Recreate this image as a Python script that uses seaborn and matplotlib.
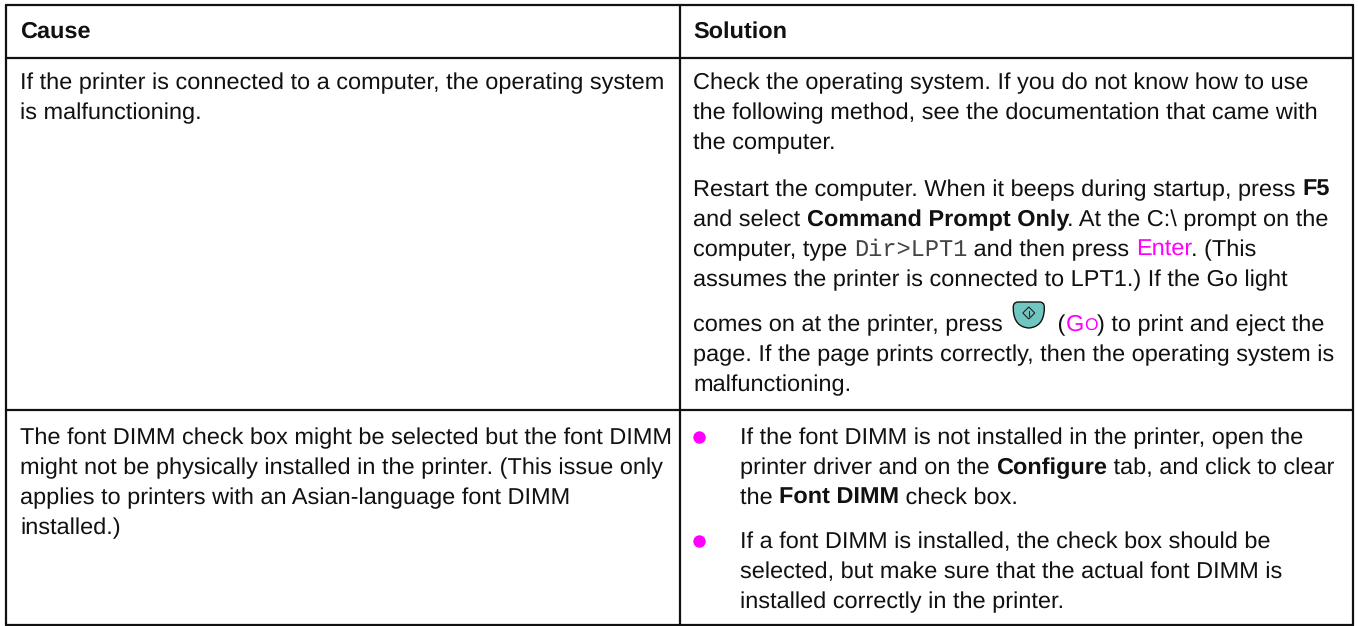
import matplotlib
matplotlib.use("Agg")
import matplotlib.pyplot as plt
from matplotlib.patches import PathPatch, Polygon
from matplotlib.path import Path
import pandas as pd
import seaborn as sns

# table text, each line is a list of (text, style) runs
header = ["Cause", "Solution"]
cause_1 = ["If the printer is connected to a computer, the operating system",
           "is malfunctioning."]
cause_2 = ["The font DIMM check box might be selected but the font DIMM",
           "might not be physically installed in the printer. (This issue only",
           "applies to printers with an Asian-language font DIMM",
           "installed.)"]
solution_1 = ["Check the operating system. If you do not know how to use",
              "the following method, see the documentation that came with",
              "the computer."]
solution_2 = [
    [("Restart the computer. When it beeps during startup, press ", "n"), ("F5", "b")],
    [("and select ", "n"), ("Command Prompt Only", "b"), (". At the C:\\ prompt on the", "n")],
    [("computer, type ", "n"), ("Dir>LPT1", "m"), (" and then press ", "n"), ("Enter", "p"), (". (This", "n")],
    [("assumes the printer is connected to LPT1.) If the Go light", "n")],
    [("comes on at the printer, press ", "n"), ("ICON", "i"), (" (", "n"), ("G", "p"), ("O", "s"), (") to print and eject the", "n")],
    [("page. If the page prints correctly, then the operating system is", "n")],
    [("malfunctioning.", "n")],
]
bullet_1 = [
    [("If the font DIMM is not installed in the printer, open the", "n")],
    [("printer driver and on the ", "n"), ("Configure", "b"), (" tab, and click to clear", "n")],
    [("the ", "n"), ("Font DIMM", "b"), (" check box.", "n")],
]
bullet_2 = [
    [("If a font DIMM is installed, the check box should be", "n")],
    [("selected, but make sure that the actual font DIMM is", "n")],
    [("installed correctly in the printer.", "n")],
]

rule_x = [6, 1353]
divider_x = 680
rule_y = [5, 58, 410, 625]

sns.set_theme(style="white")
plt.rcParams["font.family"] = ["Liberation Sans", "DejaVu Sans"]
plt.rcParams["text.hinting"] = "none"
SIZE = 16.9
MAGENTA = "#ff00ff"
STYLES = {
    "n": dict(),
    "b": dict(fontweight="bold"),
    "m": dict(family="Liberation Mono", fontsize=17, color="#444444"),
    "p": dict(color=MAGENTA),
    "s": dict(color=MAGENTA, fontsize=12.5),
}

fig, ax = plt.subplots(figsize=(13.58, 6.26), dpi=100)
ax.set_position([0, 0, 1, 1])
ax.set_xlim(0, 1358)
ax.set_ylim(626, 0)
ax.axis("off")

# rules
rows = []
for i, y in enumerate(rule_y):
    rows += [dict(x=rule_x[0], y=y, seg=i), dict(x=rule_x[1], y=y, seg=i)]
for i, x in enumerate([rule_x[0], divider_x, rule_x[1]]):
    rows += [dict(x=x, y=rule_y[0], seg=10 + i), dict(x=x, y=rule_y[-1], seg=10 + i)]
rules = pd.DataFrame(rows)
sns.lineplot(data=rules, x="x", y="y", units="seg", estimator=None, sort=False,
             color="#111111", linewidth=1.6, ax=ax, legend=False)
ax.set_xlim(0, 1358)
ax.set_ylim(626, 0)

renderer = fig.canvas.get_renderer()


def run_width(s, kw):
    # trailing spaces get lost, so measure against a dot
    extra = {k: v for k, v in kw.items() if k in ("family", "fontweight")}
    a = ax.text(0, 0, s + ".", fontsize=kw.get("fontsize", SIZE), **extra)
    b = ax.text(0, 0, ".", fontsize=kw.get("fontsize", SIZE), **extra)
    w = a.get_window_extent(renderer).width - b.get_window_extent(renderer).width
    a.remove()
    b.remove()
    return w


def draw_line(x, y, runs):
    for s, st in runs:
        if st == "i":
            draw_icon(x + 4, y)
            x += 42
            continue
        kw = dict(STYLES[st])
        kw.setdefault("fontsize", SIZE)
        kw.setdefault("color", "#111111")
        ax.text(x, y, s, va="baseline", ha="left", **kw)
        x += run_width(s, STYLES[st])


def draw_icon(x, base):
    # go button, wide top and rounded bottom
    top, bot = base - 29, base - 3
    verts = [(x + 5, top), (x + 26, top), (x + 31, top), (x + 31, top + 5), (x + 31, top + 8),
             (x + 30, bot - 1), (x + 15.5, bot), (x + 1, bot - 1), (x, top + 8), (x, top + 5),
             (x, top), (x + 5, top), (x + 5, top)]
    codes = [Path.MOVETO, Path.LINETO, Path.CURVE3, Path.CURVE3, Path.LINETO,
             Path.CURVE3, Path.CURVE3, Path.CURVE3, Path.CURVE3, Path.LINETO,
             Path.CURVE3, Path.CURVE3, Path.CLOSEPOLY]
    ax.add_patch(PathPatch(Path(verts, codes), fc="#72c6c1", ec="#111111", lw=1))
    cx, cy = x + 15.5, base - 18
    ax.add_patch(Polygon([(cx - 6, cy), (cx, cy - 6), (cx + 6, cy), (cx, cy + 6)],
                         fc="none", ec="#222222", lw=0.8))
    ax.plot([cx, cx], [cy - 2.5, cy + 2.5], color="#222222", lw=0.8)


def plain(lines):
    return [[(s, "n")] for s in lines]


ax.text(20, 38, header[0], fontsize=SIZE, fontweight="bold", color="#111111")
ax.text(693, 38, header[1], fontsize=SIZE, fontweight="bold", color="#111111")

for y, line in zip([89, 119], plain(cause_1)):
    draw_line(20, y, line)
for y, line in zip([444, 474, 504, 534], plain(cause_2)):
    draw_line(20, y, line)
for y, line in zip([89, 119, 149], plain(solution_1)):
    draw_line(693, y, line)
for y, line in zip([196, 226, 256, 286, 331, 361, 391], solution_2):
    draw_line(693, y, line)
for y, line in zip([444, 474, 504], bullet_1):
    draw_line(740, y, line)
for y, line in zip([548, 578, 608], bullet_2):
    draw_line(740, y, line)

bullets = pd.DataFrame({"x": [699, 699], "y": [437, 541]})
sns.scatterplot(data=bullets, x="x", y="y", color=MAGENTA, s=80, linewidth=0, ax=ax, legend=False)
ax.set_xlim(0, 1358)
ax.set_ylim(626, 0)

fig.savefig("out.png", dpi=100, facecolor="white")
